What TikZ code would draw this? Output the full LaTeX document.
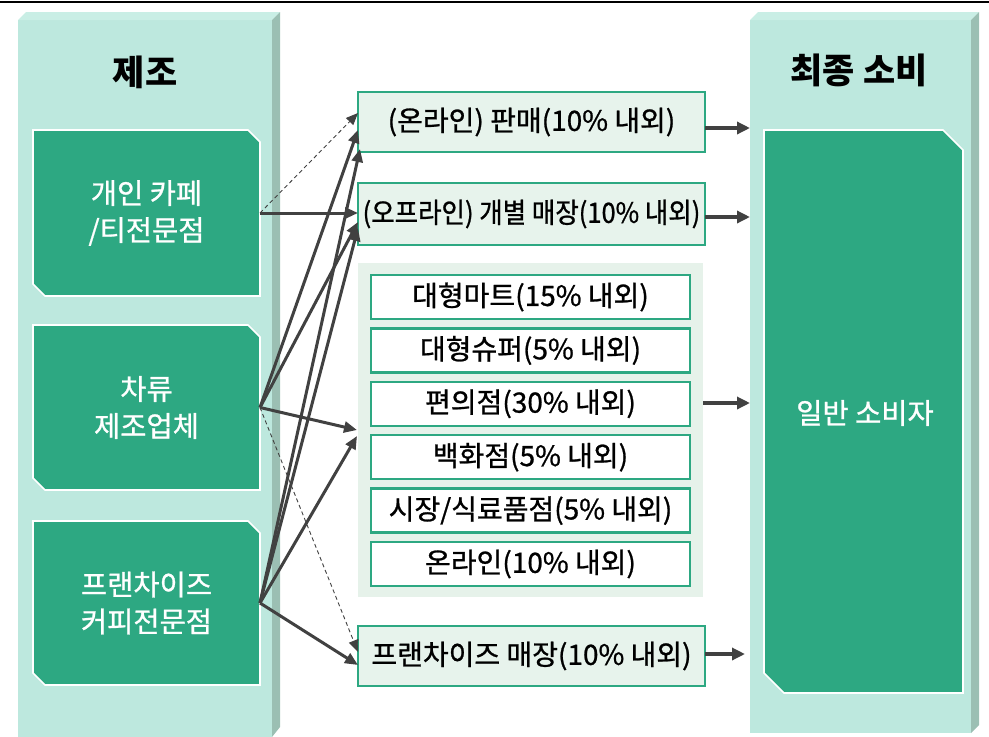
\documentclass[tikz,border=0pt]{standalone}
\usepackage{fontspec}
\setmainfont{Noto Sans CJK KR}
\newfontfamily\medf{Noto Sans CJK KR}[FakeBold=0.9]
\newfontfamily\medc{Noto Sans CJK KR}[FakeBold=0.9,FakeStretch=0.91]
\usetikzlibrary{arrows.meta}
\definecolor{dgreen}{HTML}{2DA882}
\definecolor{mint}{HTML}{BDE8DE}
\definecolor{minttop}{HTML}{C9EEE5}
\definecolor{mintside}{HTML}{9BBFB3}
\definecolor{lightbox}{HTML}{E7F3EC}
\definecolor{panelfill}{HTML}{E6F2EA}
\definecolor{agray}{HTML}{414141}
\newcommand\chamfill[2]{%
  \filldraw[fill=dgreen,draw=white,line width=1.6pt]
   (#1.north west) -- ([xshift=-#2]#1.north east) -- ([yshift=-#2]#1.north east)
   -- (#1.south east) -- ([xshift=#2]#1.south west) -- ([yshift=#2]#1.south west) -- cycle;}
\begin{document}
\begin{tikzpicture}[x=1pt,y=-1pt,
  ghost/.style={inner sep=0pt,outer sep=0pt,draw=none},
  wtxt/.style={text=white,align=center,font=\medf\fontsize{28.5}{37}\selectfont},
  ttl/.style={text=black,font=\fontsize{35}{40}\selectfont\bfseries},
  obox/.style={draw=dgreen,line width=2.5pt,fill=lightbox,inner sep=0pt,outer sep=0pt,
     minimum width=347pt,font=\medf\fontsize{28}{32}\selectfont},
  ibox/.style={draw=dgreen,line width=2.5pt,fill=white,inner sep=0pt,outer sep=0pt,
     minimum width=319pt,minimum height=44pt,font=\medf\fontsize{28}{32}\selectfont},
  conn/.style={draw=agray,line width=3pt,-{Triangle[length=13pt,width=11pt]}},
  dconn/.style={draw=agray,line width=0.9pt,dash pattern=on 4pt off 3pt,-{Triangle[length=12pt,width=10pt]}},
  rconn/.style={draw=agray,line width=3.5pt,-{Triangle[length=13pt,width=12pt]}}
]
\useasboundingbox (0,0) rectangle (989,737);
\draw[black,line width=1.8pt] (0,2) -- (989,2);

% left panel
\node[ghost,fill=mint,minimum width=254pt,minimum height=717pt] (lpanel) at (145,378.5) {};
\fill[minttop] (18,20) -- (26,12) -- (280,12) -- (272,20) -- cycle;
\fill[mintside] (272,20) -- (280,12) -- (280,727) -- (272,737) -- cycle;
% right panel
\node[ghost,fill=mint,minimum width=221pt,minimum height=713pt] (rpanel) at (860.5,376.5) {};
\fill[minttop] (750,20) -- (758,12) -- (979,12) -- (971,20) -- cycle;
\fill[mintside] (971,20) -- (979,12) -- (979,725) -- (971,733) -- cycle;

\node[ttl] (tmake) at (145,72) {제조};
\node[ttl] (tcons) at (859,70) {최종 소비};

% left boxes
\node[ghost,minimum width=227pt,minimum height=166pt] (mfa) at (146.5,213) {};
\node[ghost,minimum width=227pt,minimum height=165pt] (mfb) at (146.5,407.5) {};
\node[ghost,minimum width=227pt,minimum height=164pt] (mfc) at (146.5,603) {};
\chamfill{mfa}{12pt}
\chamfill{mfb}{12pt}
\chamfill{mfc}{12pt}
\node[wtxt] (ta) at (mfa.center) {개인 카페\\/티전문점};
\node[wtxt] (tb) at (mfb.center) {차류\\제조업체};
\node[wtxt] (tc) at (mfc.center) {프랜차이즈\\커피전문점};

% right box
\node[ghost,minimum width=199pt,minimum height=563pt] (cons) at (863.5,411.5) {};
\chamfill{cons}{20pt}
\node[wtxt] (tcon) at (865,413) {일반 소비자};

% middle
\node[obox,minimum height=60pt] (on) at (531.5,122) {(온라인) 판매(10\% 내외)};
\node[obox,minimum height=62pt,font=\medc\fontsize{28}{32}\selectfont] (off) at (531.5,214) {(오프라인) 개별 매장(10\% 내외)};
\node[ghost,fill=panelfill,minimum width=345pt,minimum height=334pt] (pan) at (530.5,430) {};
\node[ibox] (r1) at (530.5,297) {대형마트(15\% 내외)};
\node[ibox] (r2) at (530.5,350.4) {대형슈퍼(5\% 내외)};
\node[ibox] (r3) at (530.5,403.8) {편의점(30\% 내외)};
\node[ibox] (r4) at (530.5,457.2) {백화점(5\% 내외)};
\node[ibox] (r5) at (530.5,510.6) {시장/식료품점(5\% 내외)};
\node[ibox] (r6) at (530.5,564) {온라인(10\% 내외)};
\node[obox,minimum height=60pt] (fr) at (531.5,656) {프랜차이즈 매장(10\% 내외)};

% connectors to the right
\draw[rconn] ([yshift=-6pt]on.east) -- ([yshift=-6pt]rpanel.west |- on.east);
\draw[rconn] ([yshift=-3pt]off.east) -- ([yshift=-3pt]rpanel.west |- off.east);
\draw[rconn] ([yshift=27pt]pan.east) -- ([yshift=27pt]rpanel.west |- pan.east);
\draw[rconn] ([yshift=2pt]fr.east) -- ([yshift=2pt,xshift=-5pt]rpanel.west |- fr.east);

% connectors from the left
\draw[dconn] (mfa.east) -- ([yshift=9pt]on.west);
\draw[conn] (mfa.east) -- ([yshift=1pt]off.west);
\draw[conn] (mfb.east) -- ([yshift=-8pt]on.west);
\draw[conn] (mfc.east) -- ([yshift=-27pt,xshift=2pt]on.west);
\draw[conn] (mfb.east) -- ([yshift=-8pt]off.west);
\draw[conn] (mfc.east) -- ([yshift=-14pt]off.west);
\draw[conn] (mfb.east) -- ([xshift=-1pt]pan.west);
\draw[conn] (mfc.east) -- ([yshift=-6pt,xshift=-1pt]pan.west);
\draw[dconn] (mfb.east) -- ([yshift=4pt]fr.west);
\draw[conn] (mfc.east) -- ([yshift=-9pt]fr.west);
\end{tikzpicture}
\end{document}
